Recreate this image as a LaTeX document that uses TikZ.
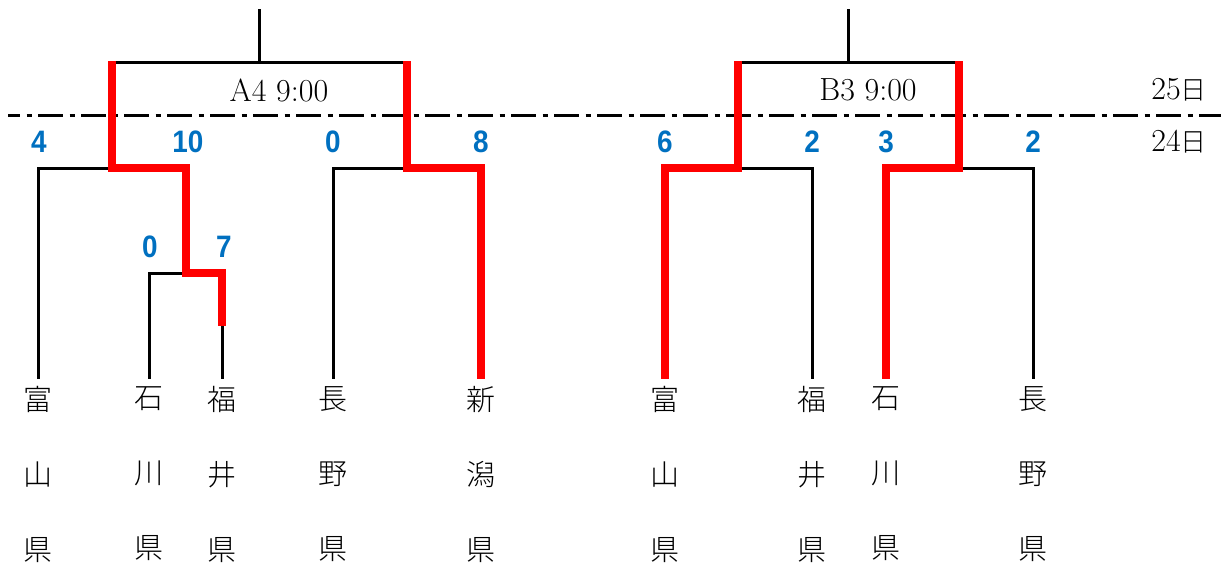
\documentclass[tikz,border=0pt]{standalone}
\usepackage{fontspec}
\newfontfamily\jp{Noto Sans CJK JP}
\newfontfamily\jplight{Noto Sans CJK JP Light}
\newfontfamily\scorefont[FakeStretch=0.9]{Liberation Sans}
\definecolor{scoreblue}{RGB}{0,112,192}
\definecolor{winred}{RGB}{255,0,0}
\begin{document}
\begin{tikzpicture}[x=1pt,y=-1pt,
  line/.style={draw=black,line width=3pt},
  win/.style={draw=winred,line width=7.5pt},
  dayline/.style={draw=black,line width=3pt,dash pattern=on 25pt off 6.5pt on 5.5pt off 6pt,dash phase=13pt},
  team/.style={font=\jplight\fontsize{29pt}{75pt}\selectfont,align=center,inner sep=0pt},
  score/.style={font=\scorefont\bfseries\fontsize{31pt}{31pt}\selectfont,text=scoreblue,inner sep=0pt},
  game/.style={font=\rmfamily\fontsize{32pt}{32pt}\selectfont,inner sep=0pt},
  day/.style={font=\fontsize{32pt}{32pt}\selectfont,inner sep=0pt}]
\useasboundingbox (0,0) rectangle (1221,566);

% teams
\node[team] (t1) at (38,474) {富\\山\\県};
\node[team] (t2) at (149,474) {石\\川\\県};
\node[team] (t3) at (222,474) {福\\井\\県};
\node[team] (t4) at (333,474) {長\\野\\県};
\node[team] (t5) at (481,474) {新\\潟\\県};
\node[team] (t6) at (665,474) {富\\山\\県};
\node[team] (t7) at (812,474) {福\\井\\県};
\node[team] (t8) at (886,474) {石\\川\\県};
\node[team] (t9) at (1033,474) {長\\野\\県};

% line ends above teams
\coordinate (e1) at (38,378.5);
\coordinate (e2) at (149,378.5);
\coordinate (e3) at (222,378.5);
\coordinate (e4) at (333,378.5);
\coordinate (e5) at (481,378.5);
\coordinate (e6) at (665,378.5);
\coordinate (e7) at (812,378.5);
\coordinate (e8) at (886,378.5);
\coordinate (e9) at (1033,378.5);

% junctions
\coordinate (s23) at (186,273);
\coordinate (j2) at (149,273);
\coordinate (j3) at (222,273);
\coordinate (j3r) at (222,326);
\coordinate (j1) at (38,168);
\coordinate (s1) at (112,168);
\coordinate (j23) at (186,168);
\coordinate (j4) at (333,168);
\coordinate (s2) at (407,168);
\coordinate (j5) at (481,168);
\coordinate (a1) at (112,62);
\coordinate (a2) at (407,62);
\coordinate (a1r) at (112,61);
\coordinate (a2r) at (407,61);
\coordinate (am) at (259,62);
\coordinate (atop) at (259,9);

\coordinate (j6) at (665,168);
\coordinate (s3) at (738,168);
\coordinate (j7) at (812,168);
\coordinate (j8) at (886,168);
\coordinate (s4) at (959,168);
\coordinate (j9) at (1033,168);
\coordinate (b1) at (738,62);
\coordinate (b2) at (959,62);
\coordinate (b1r) at (738,61);
\coordinate (b2r) at (959,61);
\coordinate (bm) at (848,62);
\coordinate (btop) at (848,9);

% day separator
\coordinate (dl) at (8,115);
\coordinate (dr) at (1221,115);
\draw[dayline] (dl) -- (dr);

% black lines
\draw[line] (atop) -- (am);
\draw[line] (a1) -- (a2);
\draw[line] (e1) |- (s1);
\draw[line] (e2) |- (s23);
\draw[line] (e3) -- (j3r);
\draw[line] (e4) |- (s2);
\draw[line] (btop) -- (bm);
\draw[line] (b1) -- (b2);
\draw[line] (e7) |- (s3);
\draw[line] (e9) |- (s4);

% winners
\draw[win] (a1r) -- (s1) -- (j23) -- (s23) -- (j3) -- (j3r);
\draw[win] (a2r) -- (s2) -- (j5) -- (e5);
\draw[win] (b1r) -- (s3) -- (j6) -- (e6);
\draw[win] (b2r) -- (s4) -- (j8) -- (e8);

% scores
\node[score] (sc1) at (39,142) {4};
\node[score] (sc2) at (188,142) {10};
\node[score] (sc3) at (333,142) {0};
\node[score] (sc4) at (481,142) {8};
\node[score] (sc5) at (150,247) {0};
\node[score] (sc6) at (224,247) {7};
\node[score] (sc7) at (665,142) {6};
\node[score] (sc8) at (812,142) {2};
\node[score] (sc9) at (886,142) {3};
\node[score] (sc10) at (1033,142) {2};

% game labels
\node[game] (gA) at (279,90) {A4 9:00};
\node[game] (gB) at (868,90) {B3 9:00};

% days
\node[day] (d25) at (1179,90) {25{\jplight\fontsize{26pt}{26pt}\selectfont 日}};
\node[day] (d24) at (1179,142) {24{\jplight\fontsize{26pt}{26pt}\selectfont 日}};
\end{tikzpicture}
\end{document}
